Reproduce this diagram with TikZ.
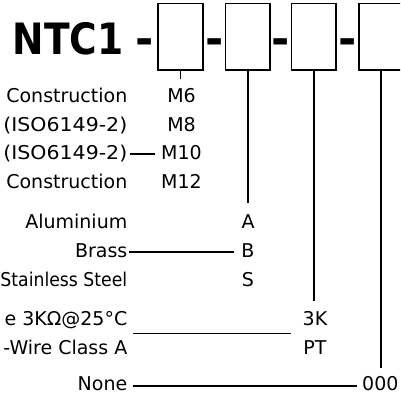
\documentclass[tikz,border=0pt]{standalone}
\usepackage{fontspec}
\setmainfont{DejaVu Sans}
\usetikzlibrary{calc}
\begin{document}
\begin{tikzpicture}[x=1pt,y=-1pt,
  lbl/.style={inner sep=0pt, font=\fontsize{19}{19}\selectfont},
  lft/.style={lbl, anchor=base east},
  rgt/.style={lbl, anchor=base},
  box/.style={draw, line width=1.8pt, minimum width=44.4pt, minimum height=66.5pt, inner sep=0pt},
  conn/.style={line width=1.6pt},
  dashmark/.style={inner sep=0pt, anchor=base, font=\fontsize{44}{44}\selectfont\bfseries},
]
\useasboundingbox (0,0) rectangle (400,401);
\clip (0,0) rectangle (400,401);
% title
\node[inner sep=0pt, anchor=base west, font=\fontsize{43.2}{43.2}\selectfont\bfseries] (title) at (12.5,55) {\scalebox{0.87}[1]{NTC1}};
% boxes
\node[box] (b1) at (180.5,36.75) {};
\node[box] (b2) at (247.7,36.75) {};
\node[box] (b3) at (313.7,36.75) {};
\node[box] (b4) at (381,36.75) {};
% dashes
\node[dashmark] (d1) at (144.8,55) {-};
\node[dashmark] (d2) at (215,55) {-};
\node[dashmark] (d3) at (280.7,55) {-};
\node[dashmark] (d4) at (347.5,55) {-};
% left labels
\node[lft] (c1) at (127.5,102.5) {Construction};
\node[lft] (iso1) at (127.5,131) {\scalebox{1.08}[1]{(ISO6149-2)}};
\node[lft] (iso2) at (127.5,159.5) {\scalebox{1.08}[1]{(ISO6149-2)}};
\node[lft] (c2) at (127.5,188) {Construction};
\node[lft] (alu) at (127.5,228.7) {Aluminium};
\node[lft] (brass) at (127.5,257.5) {Brass};
\node[lft] (ss) at (127.5,286.3) {\scalebox{0.91}[1]{Stainless Steel}};
\node[lft] (res) at (127.5,325.8) {e 3KΩ@25°C};
\node[lft] (wire) at (127.5,354) {-Wire Class A};
\node[lft] (none) at (127.5,390.5) {None};
% code columns
\node[rgt] (m6) at (181.5,102.5) {M6};
\node[rgt] (m8) at (181.5,131) {M8};
\node[rgt] (m10) at (181.5,159.5) {M10};
\node[rgt] (m12) at (181.5,188) {M12};
\node[rgt] (a) at (248,228.7) {A};
\node[rgt] (b) at (248,257.5) {B};
\node[rgt] (s) at (248,286.3) {S};
\node[rgt] (k3) at (315,325.8) {3K};
\node[rgt] (pt) at (315,354) {PT};
\node[lbl, anchor=base west] (z) at (362,390.5) {000};
% vertical connectors
\draw[conn, shorten >=9pt] (b1.south) -- (b1.south |- m6.north);
\draw[conn, shorten >=12pt] (b2.south) -- (b2.south |- a.north);
\draw[conn, shorten >=11pt] (b3.south) -- (b3.south |- k3.north);
\draw[conn, shorten >=8.6pt] (b4.south) -- (b4.south |- z.north);
% horizontal connectors
\draw[conn] ($(iso2.base east)+(2.5,-5.5)$) -- ($(m10.base west)+(-6.5,-5.5)$);
\draw[conn] ($(brass.base east)+(1.8,-5.8)$) -- ($(b.base west)+(-7,-5.8)$);
\draw[conn] ($(res.base east)+(5.8,7.5)$) -- ($(k3.base west)+(-11.4,7.5)$);
\draw[conn] ($(none.base east)+(5.5,-4.8)$) -- ($(z.base west)+(-5,-4.8)$);
\end{tikzpicture}
\end{document}
